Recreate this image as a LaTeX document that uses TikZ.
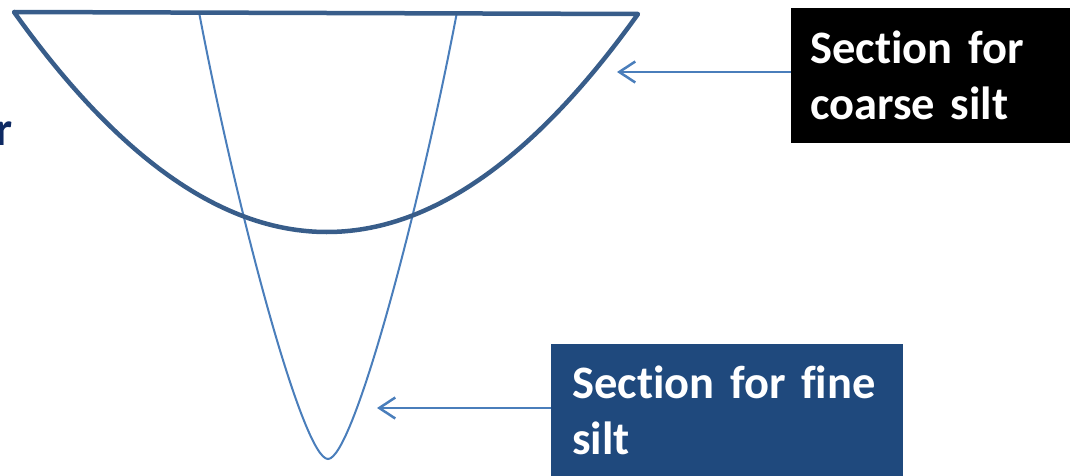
\documentclass[tikz,border=0pt]{standalone}
\usepackage{fontspec}
\setmainfont{Carlito}[RawFeature=-liga]
\usetikzlibrary{arrows.meta}
\definecolor{thick}{HTML}{385D8A}
\definecolor{thin}{HTML}{4A7EBB}
\definecolor{boxblue}{HTML}{1F497D}
\definecolor{navy}{HTML}{0E2A63}
\tikzset{
  thickcurve/.style={draw=thick, line width=4.5pt, line join=round, line cap=round},
  thincurve/.style={draw=thin, line width=2pt},
  pointer/.style={draw=thin, line width=2.5pt, -{Straight Barb[length=16pt,width=21pt,line width=2.5pt]}},
  labelbox/.style={anchor=north west, inner ysep=0pt, text=white, align=left,
     font=\fontsize{46.5}{56}\selectfont\bfseries}
}
\begin{document}
\begin{tikzpicture}[x=1pt,y=-1pt]
\useasboundingbox (0,0) rectangle (1070,476);
% narrow section (fine silt)
\draw[thincurve] (199,12) .. controls (237,212) and (303,459) .. (328,459)
   .. controls (353,459) and (419,212) .. (457,12);
% wide section (coarse silt)
\draw[thickcurve] (14,12) -- (638,14) .. controls (430,305) and (223,305) .. cycle;
% partial text at left
\node[anchor=base west, inner sep=0pt, text=navy, font=\fontsize{48}{56}\selectfont\bfseries] (lefttext) at (-5,146) {r};
% label boxes
\node[labelbox, fill=black, minimum width=279pt, minimum height=135pt, text width=241pt, inner xsep=19pt] (coarse) at (791,8) {Section for\\coarse silt};
\node[labelbox, fill=boxblue, minimum width=352pt, minimum height=132pt, text width=310pt, inner xsep=21pt] (fine) at (551,344) {Section for fine\\silt};
% arrows
\coordinate (ca) at (617,72);
\coordinate (fa) at (377,408);
\draw[pointer] (coarse.west |- ca) -- (ca);
\draw[pointer] (fine.west |- fa) -- (fa);
\end{tikzpicture}
\end{document}
